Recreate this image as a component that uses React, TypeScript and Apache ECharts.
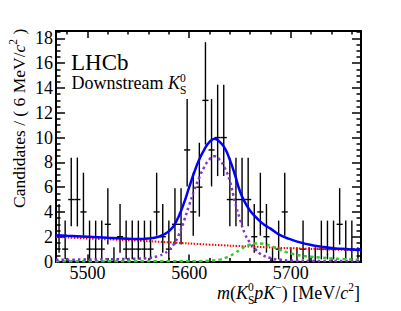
import React, { useEffect, useRef } from 'react';
import * as echarts from 'echarts';

// ---------------- data ----------------
const binStart = 5469;
const binWidth = 6;
const counts = [
  2, 1, 5, 5, 4, 1, 1, 1, 3, 0,
  2, 1, 1, 1, 1, 1, 4, 2, 1, 3,
  3, 9, 4, 6, 13, 9, 10, 10, 5, 5,
  5, 5, 2, 4, 2, 0, 1, 4, 0, 0,
  1, 0, 0, 1, 1, 1, 3, 1, 1, 0,
];
// Poisson (68%) interval ends for a count n (index = n)
const poissonLow = [0, 0.173, 0.708, 1.367, 2.086, 2.84, 3.62, 4.419, 5.232, 6.057, 6.891, 7.734, 8.585, 9.441];
const poissonHigh = [1.148, 3.3, 4.638, 5.918, 7.163, 8.382, 9.584, 10.77, 11.95, 13.11, 14.27, 15.42, 16.56, 17.7];

const totalMass = [5469, 5480, 5500, 5520, 5540, 5550, 5560, 5570, 5575, 5580, 5585, 5590, 5595, 5600, 5605, 5610, 5615, 5620, 5625, 5630, 5635, 5640, 5645, 5650, 5655, 5660, 5665, 5670, 5675, 5680, 5690, 5700, 5710, 5720, 5730, 5740, 5750, 5760, 5769];
const totalFit = [2.12, 2.07, 1.99, 1.91, 1.84, 1.81, 1.86, 2.0, 2.18, 2.45, 2.9, 3.7, 4.75, 6.0, 7.2, 8.25, 9.05, 9.65, 9.9, 9.65, 9.15, 8.2, 7.0, 5.65, 4.75, 4.1, 3.62, 3.22, 2.9, 2.65, 2.1, 1.78, 1.52, 1.33, 1.2, 1.09, 1.02, 0.97, 0.94];

const bkgMass = [5469, 5500, 5540, 5580, 5620, 5660, 5700, 5740, 5769];
const bkgFit = [1.98, 1.86, 1.72, 1.55, 1.36, 1.21, 1.07, 0.97, 0.9];

const sigMass = [5469, 5500, 5530, 5550, 5560, 5570, 5575, 5580, 5585, 5590, 5595, 5600, 5605, 5610, 5615, 5620, 5625, 5630, 5635, 5640, 5645, 5650, 5655, 5660, 5665, 5670, 5680, 5690, 5700, 5730, 5769];
const sigFit = [0.14, 0.16, 0.19, 0.23, 0.28, 0.45, 0.63, 0.92, 1.4, 2.2, 3.3, 4.55, 5.75, 6.8, 7.65, 8.25, 8.5, 8.2, 7.55, 6.5, 4.8, 3.4, 2.2, 1.5, 1.0, 0.62, 0.28, 0.14, 0.08, 0.04, 0.03];

const partMass = [5469, 5600, 5610, 5620, 5630, 5635, 5640, 5645, 5650, 5655, 5660, 5665, 5670, 5675, 5680, 5690, 5700, 5710, 5720, 5730, 5740, 5750, 5760, 5769];
const partFit = [0.02, 0.02, 0.03, 0.06, 0.15, 0.27, 0.45, 0.68, 0.95, 1.2, 1.36, 1.45, 1.46, 1.4, 1.27, 0.92, 0.65, 0.48, 0.38, 0.31, 0.25, 0.2, 0.16, 0.13];

const xMajorTicks = [5500, 5600, 5700];
const xMinorTicks = [5480, 5520, 5540, 5560, 5580, 5620, 5640, 5660, 5680, 5720, 5740, 5760];
const yMajorTicks = [0, 2, 4, 6, 8, 10, 12, 14, 16, 18];
const yMinorTicks = [0.5, 1, 1.5, 2.5, 3, 3.5, 4.5, 5, 5.5, 6.5, 7, 7.5, 8.5, 9, 9.5, 10.5, 11, 11.5, 12.5, 13, 13.5, 14.5, 15, 15.5, 16.5, 17, 17.5, 18.5];

const xMin = 5469;
const xMax = 5769;
const yMax = 18.6;

// ---------------- text helpers ----------------
const SERIF = '"Liberation Serif", "Times New Roman", serif';
let mctx: CanvasRenderingContext2D | null = null;
function textWidth(t: string, size: number, italic: boolean): number {
  if (!mctx) mctx = document.createElement('canvas').getContext('2d');
  if (!mctx) return t.length * size * 0.5;
  mctx.font = `${italic ? 'italic ' : ''}${size}px ${SERIF}`;
  return mctx.measureText(t).width;
}

type Piece = { t: string; it?: boolean; pos?: 'sup' | 'sub'; stay?: boolean };
function layoutPieces(pieces: Piece[], base: number, small: number, x0: number, baseline: number) {
  const els: any[] = [];
  let x = x0;
  let stayW = 0;
  for (const p of pieces) {
    const size = p.pos ? small : base;
    const bl = p.pos === 'sup' ? baseline - base * 0.45 : p.pos === 'sub' ? baseline + base * 0.25 : baseline;
    const w = textWidth(p.t, size, !!p.it);
    els.push({
      type: 'text',
      x,
      y: bl - 0.3375 * size,
      silent: true,
      style: {
        text: p.t,
        fontFamily: SERIF,
        fontSize: size,
        fontStyle: p.it ? 'italic' : 'normal',
        fill: '#000',
        align: 'left',
        verticalAlign: 'middle',
      },
    });
    if (p.stay) {
      stayW = w;
    } else {
      x += Math.max(w, stayW);
      stayW = 0;
    }
  }
  return { els, width: x - x0 };
}

function axisBase(min: number, max: number) {
  return {
    type: 'value' as const,
    min,
    max,
    splitLine: { show: false },
    axisLine: { show: true, onZero: false, lineStyle: { color: '#000', width: 2 } },
  };
}

export default function App() {
  const ref = useRef<HTMLDivElement>(null);

  useEffect(() => {
    if (!ref.current) return;
    const chart = echarts.init(ref.current, undefined, { renderer: 'svg' });

    const labelStyle = { fontFamily: SERIF, fontSize: 18, color: '#000' };
    const tickStyle = { color: '#000', width: 1.5 };
    const plain = (v: number) => String(v);

    const xAxes = [
      {
        ...axisBase(xMin, xMax),
        position: 'bottom',
        axisTick: { show: true, inside: true, length: 7, customValues: xMajorTicks, lineStyle: tickStyle },
        axisLabel: { show: true, customValues: xMajorTicks, margin: 2, formatter: plain, ...labelStyle },
      },
      {
        ...axisBase(xMin, xMax),
        position: 'bottom',
        axisTick: { show: true, inside: true, length: 3.5, customValues: xMinorTicks, lineStyle: tickStyle },
        axisLabel: { show: false },
      },
      {
        ...axisBase(xMin, xMax),
        position: 'top',
        axisTick: { show: true, inside: true, length: 7, customValues: xMajorTicks, lineStyle: tickStyle },
        axisLabel: { show: false },
      },
      {
        ...axisBase(xMin, xMax),
        position: 'top',
        axisTick: { show: true, inside: true, length: 3.5, customValues: xMinorTicks, lineStyle: tickStyle },
        axisLabel: { show: false },
      },
    ];
    const yAxes = [
      {
        ...axisBase(0, yMax),
        position: 'left',
        axisTick: { show: true, inside: true, length: 9, customValues: yMajorTicks, lineStyle: tickStyle },
        axisLabel: { show: true, customValues: yMajorTicks, margin: 3, formatter: plain, ...labelStyle },
      },
      {
        ...axisBase(0, yMax),
        position: 'left',
        axisTick: { show: true, inside: true, length: 4.5, customValues: yMinorTicks, lineStyle: tickStyle },
        axisLabel: { show: false },
      },
      {
        ...axisBase(0, yMax),
        position: 'right',
        axisTick: { show: true, inside: true, length: 9, customValues: yMajorTicks, lineStyle: tickStyle },
        axisLabel: { show: false },
      },
      {
        ...axisBase(0, yMax),
        position: 'right',
        axisTick: { show: true, inside: true, length: 4.5, customValues: yMinorTicks, lineStyle: tickStyle },
        axisLabel: { show: false },
      },
    ];

    const pointData = counts.map((n, i) => [
      binStart + binWidth * (i + 0.5),
      n,
      poissonLow[n],
      poissonHigh[n],
    ]);

    const pair = (xs: number[], ys: number[]) => xs.map((x, i) => [x, ys[i]]);

    // texts
    const graphics: any[] = [];
    graphics.push({
      type: 'text',
      x: 71,
      y: 70 - 0.3375 * 23,
      silent: true,
      style: { text: 'LHCb', fontFamily: SERIF, fontSize: 23, fill: '#000', align: 'left', verticalAlign: 'middle' },
    });
    const down = layoutPieces(
      [{ t: 'Downstream ' }, { t: 'K', it: true }, { t: 'S', pos: 'sub', stay: true }, { t: '0', pos: 'sup' }],
      18, 11.5, 71.5, 89.5,
    );
    graphics.push(...down.els);

    const xt = layoutPieces(
      [
        { t: 'm', it: true }, { t: '(' }, { t: 'K', it: true },
        { t: 'S', pos: 'sub', stay: true }, { t: '0', pos: 'sup' },
        { t: 'p', it: true }, { t: 'K', it: true }, { t: '\u2212', pos: 'sup' },
        { t: ') [MeV/' }, { t: 'c', it: true }, { t: '2', pos: 'sup' }, { t: ']' },
      ],
      18, 11.5, 0, 299,
    );
    const shift = 360 - xt.width;
    xt.els.forEach((e) => { e.x += shift; });
    graphics.push(...xt.els);

    const yt = layoutPieces(
      [{ t: 'Candidates / ( 6 MeV/' }, { t: 'c', it: true }, { t: '2', pos: 'sup' }, { t: ' )' }],
      17.5, 11.5, 0, 24.5,
    );
    graphics.push({ type: 'group', x: 0, y: 208, rotation: Math.PI / 2, children: yt.els });

    chart.setOption({
      animation: false,
      backgroundColor: '#fff',
      grid: { left: 56, top: 31, right: 40, bottom: 49.5, containLabel: false },
      xAxis: xAxes,
      yAxis: yAxes,
      graphic: graphics,
      series: [
        {
          type: 'custom',
          xAxisIndex: 0,
          yAxisIndex: 0,
          data: pointData,
          dimensions: ['x', 'n', 'lo', 'hi'],
          encode: { x: 0, y: 1 },
          renderItem: (params: any, api: any) => {
            const c = api.value(0);
            const n = api.value(1);
            const lo = api.value(2);
            const hi = api.value(3);
            const pLo = api.coord([c, lo]);
            const pHi = api.coord([c, hi]);
            const pL = api.coord([c - binWidth / 2, n]);
            const pR = api.coord([c + binWidth / 2, n]);
            const st = { stroke: '#000', lineWidth: 1.4 };
            return {
              type: 'group',
              children: [
                { type: 'line', shape: { x1: pLo[0], y1: pLo[1], x2: pHi[0], y2: pHi[1] }, style: st },
                { type: 'line', shape: { x1: pL[0], y1: pL[1], x2: pR[0], y2: pR[1] }, style: st },
              ],
            };
          },
        },
        {
          type: 'line',
          data: pair(bkgMass, bkgFit),
          smooth: true,
          showSymbol: false,
          lineStyle: { color: '#ff0000', width: 2, type: [1.5, 1.5] },
        },
        {
          type: 'line',
          data: pair(partMass, partFit),
          smooth: true,
          showSymbol: false,
          lineStyle: { color: '#33cc33', width: 2.5, type: [3.5, 3] },
        },
        {
          type: 'line',
          data: pair(sigMass, sigFit),
          smooth: true,
          showSymbol: false,
          lineStyle: { color: '#7f33cc', width: 2.5, type: [2.5, 3] },
        },
        {
          type: 'line',
          data: pair(totalMass, totalFit),
          smooth: true,
          showSymbol: false,
          lineStyle: { color: '#0000ff', width: 2.5 },
        },
      ],
    });

    return () => {
      chart.dispose();
    };
  }, []);

  return (
    <div
      ref={ref}
      style={{ position: 'fixed', left: 0, top: 0, width: 401, height: 311, background: '#fff' }}
    />
  );
}
